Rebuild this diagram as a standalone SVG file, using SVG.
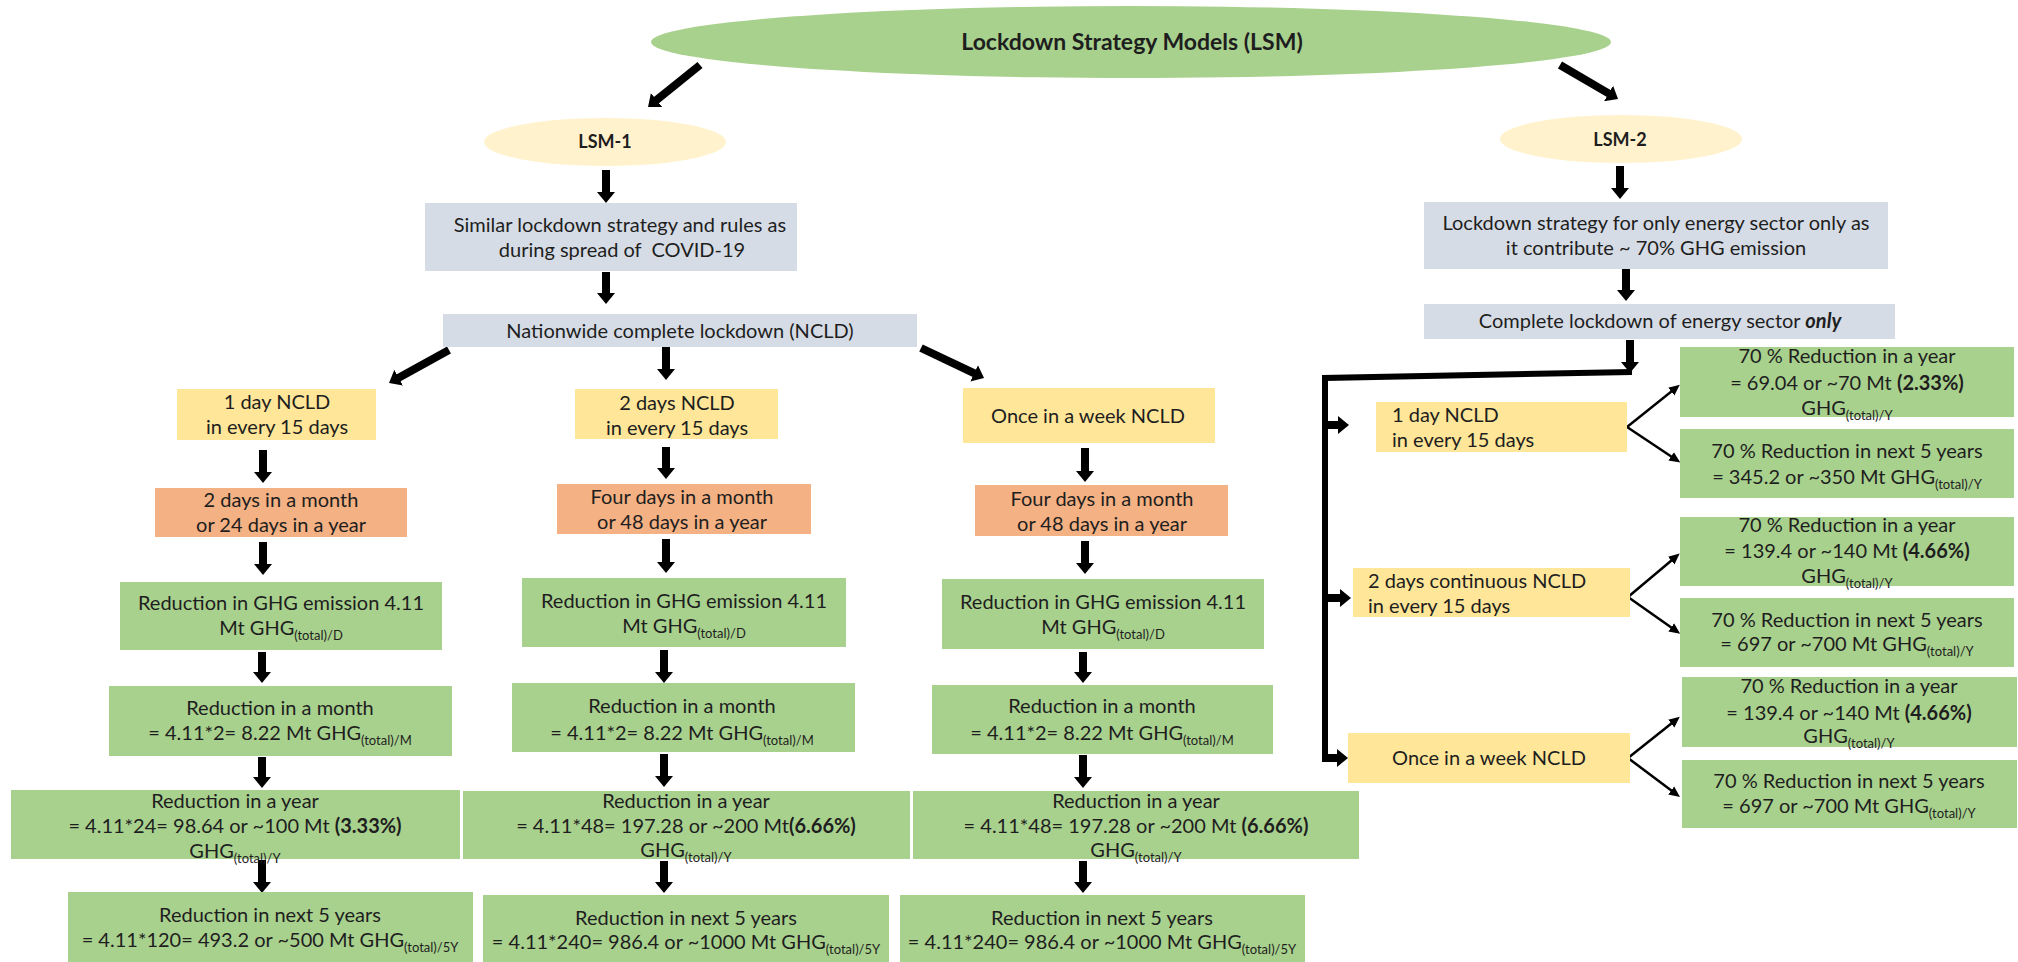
<svg xmlns="http://www.w3.org/2000/svg" width="2018" height="962" viewBox="0 0 2018 962">
<style>
.t{font-family:Lato,'Liberation Sans',sans-serif;font-size:20px;fill:#1e1e1e;text-anchor:middle}
.l{text-anchor:start}
.b{font-weight:bold}
.s{font-size:13px}
.gray{fill:#d6dce5}
.yel{fill:#ffe699}
.ora{fill:#f4b183}
.grn{fill:#a9d18e}
.ell{fill:#fff2cc}
.thick{stroke:#000;stroke-width:8;fill:none;marker-end:url(#ah)}
.thin{stroke:#000;stroke-width:2.5;fill:none;marker-end:url(#ahs)}
</style>
<defs>
<marker id="ah" markerUnits="userSpaceOnUse" markerWidth="14" markerHeight="18" viewBox="0 0 14 18" refX="1" refY="9" orient="auto"><path d="M0,0 L11,9 L0,18 z" fill="#000"/></marker>
<marker id="ahs" markerUnits="userSpaceOnUse" markerWidth="12" markerHeight="12" viewBox="0 0 12 12" refX="1" refY="6" orient="auto"><path d="M0,1 L11,6 L0,11 z" fill="#000"/></marker>
</defs>
<rect width="2018" height="962" fill="#fff"/>

<g id="connectors">
<line class="thick" x1="700" y1="65" x2="655.8" y2="100.7"/>
<line class="thick" x1="1560" y1="65" x2="1609.4" y2="93.9"/>
<line class="thick" x1="606" y1="170" x2="606" y2="193"/>
<line class="thick" x1="606" y1="272" x2="606" y2="294"/>
<line class="thick" x1="449" y1="350" x2="397.8" y2="378.2"/>
<line class="thick" x1="666" y1="347" x2="666" y2="370"/>
<line class="thick" x1="921" y1="348" x2="975" y2="373.7"/>
<line class="thick" x1="263" y1="450" x2="263" y2="473"/>
<line class="thick" x1="666" y1="447" x2="666" y2="469"/>
<line class="thick" x1="1085" y1="448" x2="1085" y2="472"/>
<line class="thick" x1="263" y1="542" x2="263" y2="565"/>
<line class="thick" x1="666" y1="539" x2="666" y2="563"/>
<line class="thick" x1="1085" y1="541" x2="1085" y2="564"/>
<line class="thick" x1="262" y1="652" x2="262" y2="673"/>
<line class="thick" x1="664" y1="650" x2="664" y2="673"/>
<line class="thick" x1="1083" y1="652" x2="1083" y2="673"/>
<line class="thick" x1="262" y1="757" x2="262" y2="778"/>
<line class="thick" x1="664" y1="754" x2="664" y2="777"/>
<line class="thick" x1="1083" y1="755" x2="1083" y2="778"/>
<line class="thick" x1="262" y1="860" x2="262" y2="883"/>
<line class="thick" x1="664" y1="861" x2="664" y2="883"/>
<line class="thick" x1="1083" y1="861" x2="1083" y2="883"/>
<line class="thick" x1="1620" y1="166" x2="1620" y2="189"/>
<line class="thick" x1="1626" y1="268" x2="1626" y2="291"/>
<line class="thick" x1="1630" y1="340" x2="1630" y2="363"/>
<polyline points="1632,372 1325,378 1325,761" stroke="#000" stroke-width="6" fill="none"/>
<line class="thick" x1="1322" y1="425" x2="1339" y2="425"/>
<line class="thick" x1="1322" y1="598" x2="1341" y2="598"/>
<line class="thick" x1="1322" y1="758" x2="1338" y2="758"/>
<line class="thin" x1="1627" y1="427" x2="1672" y2="391"/>
<line class="thin" x1="1627" y1="427" x2="1672" y2="457"/>
<line class="thin" x1="1628" y1="597" x2="1672" y2="560"/>
<line class="thin" x1="1628" y1="597" x2="1672" y2="628"/>
<line class="thin" x1="1628" y1="758" x2="1672" y2="723"/>
<line class="thin" x1="1628" y1="758" x2="1672" y2="791"/>
</g>

<g id="lsm">
<ellipse cx="1131" cy="42" rx="480" ry="36" class="grn"/>
<text class="t b" x="1132" y="50" style="font-size:23px">Lockdown Strategy Models (LSM)</text>
</g>
<g id="lsm1">
<ellipse cx="605" cy="142" rx="121" ry="24" class="ell"/>
<text class="t b" x="605" y="148" style="font-size:18px">LSM-1</text>
</g>
<g id="lsm2">
<ellipse cx="1621" cy="139" rx="121" ry="24" class="ell"/>
<text class="t b" x="1620" y="146" style="font-size:18px">LSM-2</text>
</g>

<g id="similar">
<rect x="425" y="203" width="372" height="68" class="gray"/>
<text class="t" x="620" y="232">Similar lockdown strategy and rules as</text>
<text class="t" x="622" y="257">during spread of&#160; COVID-19</text>
</g>
<g id="ncld">
<rect x="443" y="314" width="474" height="33" class="gray"/>
<text class="t" x="680" y="338">Nationwide complete lockdown (NCLD)</text>
</g>

<g id="y1">
<rect x="177" y="389" width="199" height="51" class="yel"/>
<text class="t" x="277" y="409">1 day NCLD</text>
<text class="t" x="277" y="434">in every 15 days</text>
</g>
<g id="y2">
<rect x="575" y="389" width="203" height="50" class="yel"/>
<text class="t" x="677" y="410">2 days NCLD</text>
<text class="t" x="677" y="435">in every 15 days</text>
</g>
<g id="y3">
<rect x="963" y="388" width="252" height="55" class="yel"/>
<text class="t" x="1088" y="423">Once in a week NCLD</text>
</g>

<g id="o1">
<rect x="155" y="488" width="252" height="49" class="ora"/>
<text class="t" x="281" y="507">2 days in a month</text>
<text class="t" x="281" y="532">or 24 days in a year</text>
</g>
<g id="o2">
<rect x="557" y="484" width="254" height="50" class="ora"/>
<text class="t" x="682" y="504">Four days in a month</text>
<text class="t" x="682" y="529">or 48 days in a year</text>
</g>
<g id="o3">
<rect x="975" y="485" width="253" height="51" class="ora"/>
<text class="t" x="1102" y="506">Four days in a month</text>
<text class="t" x="1102" y="531">or 48 days in a year</text>
</g>

<g id="g1">
<rect x="120" y="582" width="322" height="68" class="grn"/>
<text class="t" x="281" y="610">Reduction in GHG emission 4.11</text>
<text class="t" x="281" y="635">Mt GHG<tspan class="s" dy="5">(total)/D</tspan></text>
</g>
<g id="g2">
<rect x="522" y="578" width="324" height="69" class="grn"/>
<text class="t" x="684" y="608">Reduction in GHG emission 4.11</text>
<text class="t" x="684" y="633">Mt GHG<tspan class="s" dy="5">(total)/D</tspan></text>
</g>
<g id="g3">
<rect x="942" y="579" width="322" height="70" class="grn"/>
<text class="t" x="1103" y="609">Reduction in GHG emission 4.11</text>
<text class="t" x="1103" y="634">Mt GHG<tspan class="s" dy="5">(total)/D</tspan></text>
</g>

<g id="m1">
<rect x="109" y="686" width="343" height="70" class="grn"/>
<text class="t" x="280" y="715">Reduction in a month</text>
<text class="t" x="280" y="740">= 4.11*2= 8.22 Mt GHG<tspan class="s" dy="5">(total)/M</tspan></text>
</g>
<g id="m2">
<rect x="512" y="683" width="343" height="69" class="grn"/>
<text class="t" x="682" y="713">Reduction in a month</text>
<text class="t" x="682" y="740">= 4.11*2= 8.22 Mt GHG<tspan class="s" dy="5">(total)/M</tspan></text>
</g>
<g id="m3">
<rect x="932" y="685" width="341" height="69" class="grn"/>
<text class="t" x="1102" y="713">Reduction in a month</text>
<text class="t" x="1102" y="740">= 4.11*2= 8.22 Mt GHG<tspan class="s" dy="5">(total)/M</tspan></text>
</g>

<g id="yr1">
<rect x="11" y="790" width="449" height="69" class="grn"/>
<text class="t" x="235" y="808">Reduction in a year</text>
<text class="t" x="235" y="833">= 4.11*24= 98.64 or ~100 Mt <tspan class="b">(3.33%)</tspan></text>
<text class="t" x="235" y="858">GHG<tspan class="s" dy="5">(total)/Y</tspan></text>
</g>
<g id="yr2">
<rect x="463" y="791" width="447" height="68" class="grn"/>
<text class="t" x="686" y="808">Reduction in a year</text>
<text class="t" x="686" y="833">= 4.11*48= 197.28 or ~200 Mt<tspan class="b">(6.66%)</tspan></text>
<text class="t" x="686" y="857">GHG<tspan class="s" dy="5">(total)/Y</tspan></text>
</g>
<g id="yr3">
<rect x="913" y="791" width="446" height="68" class="grn"/>
<text class="t" x="1136" y="808">Reduction in a year</text>
<text class="t" x="1136" y="833">= 4.11*48= 197.28 or ~200 Mt <tspan class="b">(6.66%)</tspan></text>
<text class="t" x="1136" y="857">GHG<tspan class="s" dy="5">(total)/Y</tspan></text>
</g>

<g id="f1">
<rect x="68" y="892" width="405" height="70" class="grn"/>
<text class="t" x="270" y="922">Reduction in next 5 years</text>
<text class="t" x="270" y="947">= 4.11*120= 493.2 or ~500 Mt GHG<tspan class="s" dy="5">(total)/5Y</tspan></text>
</g>
<g id="f2">
<rect x="483" y="895" width="406" height="67" class="grn"/>
<text class="t" x="686" y="925">Reduction in next 5 years</text>
<text class="t" x="686" y="949">= 4.11*240= 986.4 or ~1000 Mt GHG<tspan class="s" dy="5">(total)/5Y</tspan></text>
</g>
<g id="f3">
<rect x="900" y="895" width="405" height="67" class="grn"/>
<text class="t" x="1102" y="925">Reduction in next 5 years</text>
<text class="t" x="1102" y="949">= 4.11*240= 986.4 or ~1000 Mt GHG<tspan class="s" dy="5">(total)/5Y</tspan></text>
</g>

<g id="energy">
<rect x="1424" y="202" width="464" height="67" class="gray"/>
<text class="t" x="1656" y="230">Lockdown strategy for only energy sector only as</text>
<text class="t" x="1656" y="255">it contribute ~ 70% GHG emission</text>
</g>
<g id="complete">
<rect x="1424" y="304" width="471" height="35" class="gray"/>
<text class="t" x="1660" y="328">Complete lockdown of energy sector <tspan class="b" font-style="italic">only</tspan></text>
</g>

<g id="yr-1">
<rect x="1376" y="402" width="251" height="50" class="yel"/>
<text class="t l" x="1392" y="422">1 day NCLD</text>
<text class="t l" x="1392" y="447">in every 15 days</text>
</g>
<g id="yr-2">
<rect x="1353" y="568" width="277" height="49" class="yel"/>
<text class="t l" x="1368" y="588">2 days continuous NCLD</text>
<text class="t l" x="1368" y="613">in every 15 days</text>
</g>
<g id="yr-3">
<rect x="1348" y="733" width="282" height="50" class="yel"/>
<text class="t" x="1489" y="765">Once in a week NCLD</text>
</g>

<g id="r1a">
<rect x="1680" y="347" width="334" height="70" class="grn"/>
<text class="t" x="1847" y="363">70 % Reduction in a year</text>
<text class="t" x="1847" y="390">= 69.04 or ~70 Mt <tspan class="b">(2.33%)</tspan></text>
<text class="t" x="1847" y="415">GHG<tspan class="s" dy="5">(total)/Y</tspan></text>
</g>
<g id="r1b">
<rect x="1680" y="429" width="334" height="69" class="grn"/>
<text class="t" x="1847" y="458">70 % Reduction in next 5 years</text>
<text class="t" x="1847" y="484">= 345.2 or ~350 Mt GHG<tspan class="s" dy="5">(total)/Y</tspan></text>
</g>
<g id="r2a">
<rect x="1680" y="517" width="334" height="69" class="grn"/>
<text class="t" x="1847" y="532">70 % Reduction in a year</text>
<text class="t" x="1847" y="558">= 139.4 or ~140 Mt <tspan class="b">(4.66%)</tspan></text>
<text class="t" x="1847" y="583">GHG<tspan class="s" dy="5">(total)/Y</tspan></text>
</g>
<g id="r2b">
<rect x="1680" y="598" width="334" height="69" class="grn"/>
<text class="t" x="1847" y="627">70 % Reduction in next 5 years</text>
<text class="t" x="1847" y="651">= 697 or ~700 Mt GHG<tspan class="s" dy="5">(total)/Y</tspan></text>
</g>
<g id="r3a">
<rect x="1682" y="677" width="335" height="70" class="grn"/>
<text class="t" x="1849" y="693">70 % Reduction in a year</text>
<text class="t" x="1849" y="720">= 139.4 or ~140 Mt <tspan class="b">(4.66%)</tspan></text>
<text class="t" x="1849" y="743">GHG<tspan class="s" dy="5">(total)/Y</tspan></text>
</g>
<g id="r3b">
<rect x="1682" y="760" width="335" height="68" class="grn"/>
<text class="t" x="1849" y="788">70 % Reduction in next 5 years</text>
<text class="t" x="1849" y="813">= 697 or ~700 Mt GHG<tspan class="s" dy="5">(total)/Y</tspan></text>
</g>
</svg>
